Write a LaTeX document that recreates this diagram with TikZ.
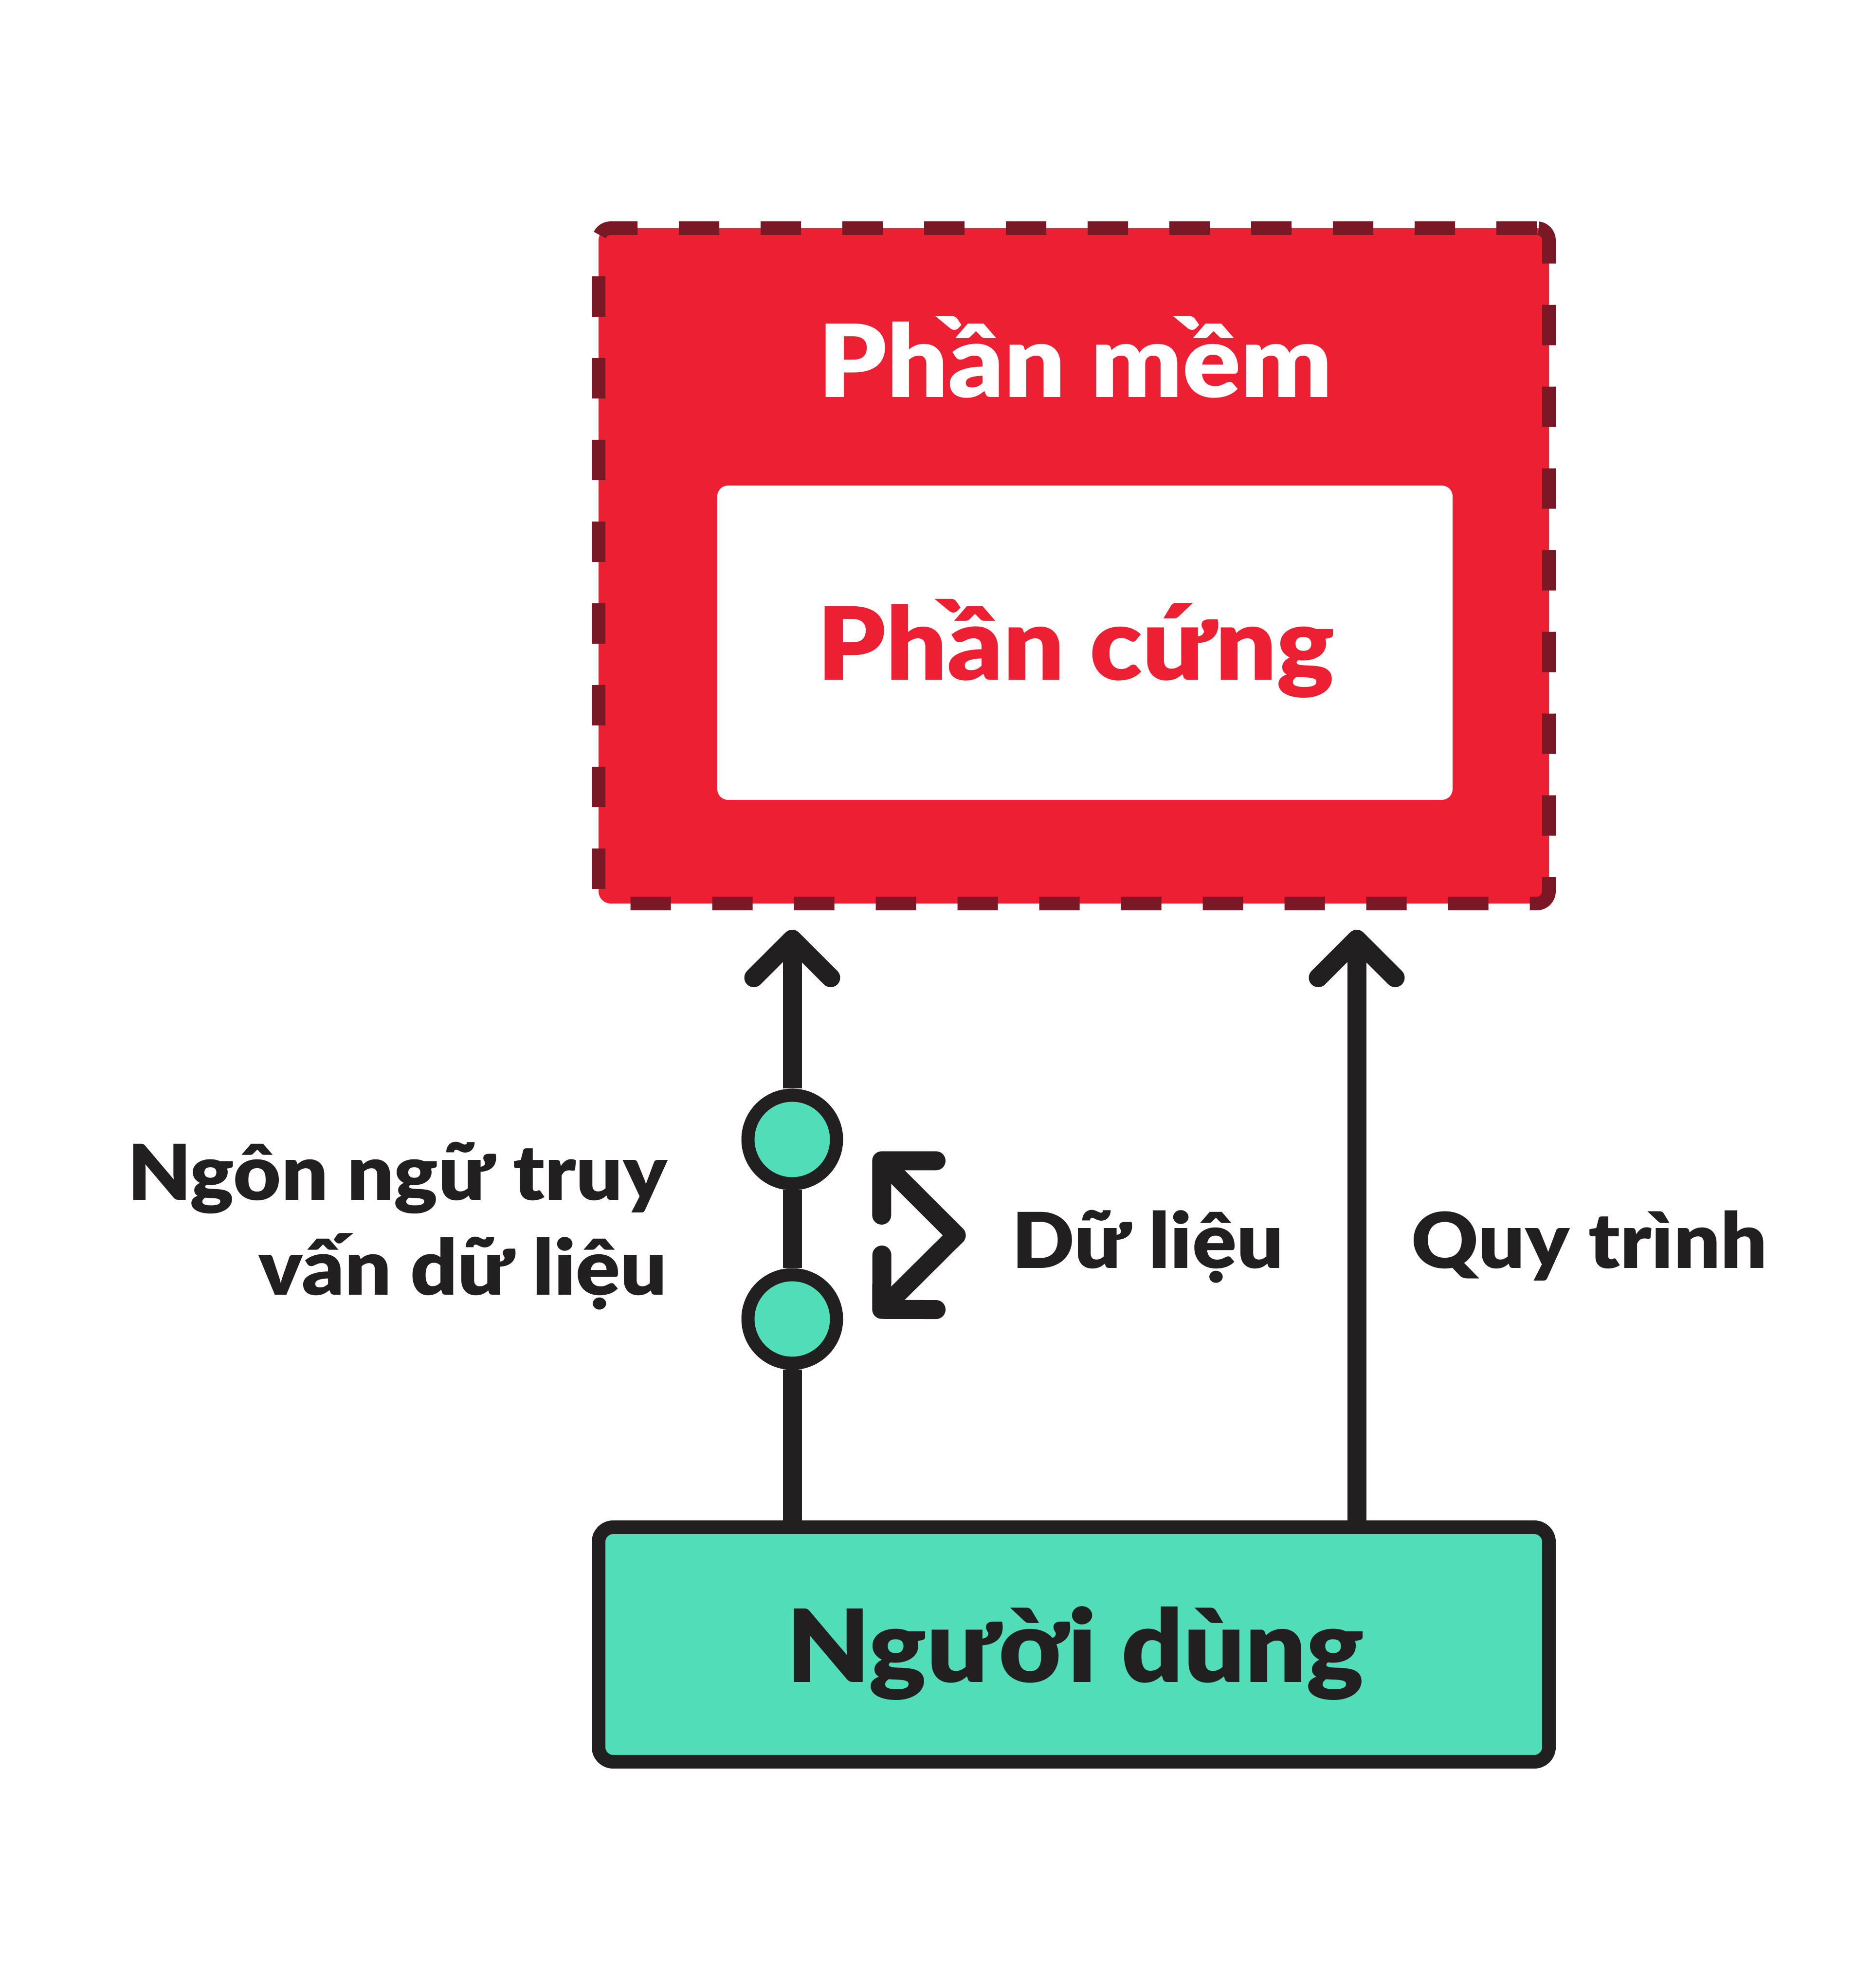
\documentclass[tikz,border=0pt]{standalone}
\usepackage{fontspec}
\setmainfont{Lato}[BoldFont={Lato Black}, BoldFeatures={FakeStretch=1.07}]
\usepackage{xcolor}
\definecolor{softred}{HTML}{EC1F33}
\definecolor{wine}{HTML}{7A1826}
\definecolor{mint}{HTML}{51DDB8}
\definecolor{inkdark}{HTML}{221F20}
\usetikzlibrary{positioning,arrows.meta,calc,backgrounds}

\begin{document}
\begin{tikzpicture}[
  font=\bfseries,
  swbox/.style={
    draw=wine, line width=0.28cm, dash pattern=on 0.83cm off 0.85cm,
    fill=softred, rounded corners=0.25cm,
    minimum width=19.53cm, minimum height=13.88cm,
  },
  hwbox/.style={
    fill=white, rounded corners=0.22cm,
    minimum width=15.11cm, minimum height=6.46cm,
  },
  userbox/.style={
    draw=inkdark, line width=0.28cm, fill=mint, rounded corners=0.3cm,
    minimum width=19.53cm, minimum height=4.82cm,
  },
  tapdot/.style={
    circle, draw=inkdark, line width=0.27cm, fill=mint,
    minimum size=1.82cm, inner sep=0pt,
  },
  flow/.style={draw=inkdark, line width=0.39cm,
    -{Straight Barb[length=0.79cm, width=1.58cm, round]}},
  bigtxt/.style={font=\fontsize{59pt}{64pt}\selectfont\bfseries, inner sep=0pt},
  lbltxt/.style={font=\fontsize{45pt}{55.7pt}\selectfont\bfseries,
    text=inkdark, inner sep=0pt},
]
\useasboundingbox (0,0) rectangle (38.14,40.86);

% === SOFTWARE / HARDWARE ===
\node[swbox] (sw) at (22.065, 29.23) {};
\node[hwbox] (hw) at (22.295, 27.65) {};
\node[bigtxt, text=white, anchor=base] (swtxt) at (22.10, 32.69) {Phần mềm};
\node[bigtxt, text=softred, anchor=base] (hwtxt) at (22.11, 26.88) {Phần cứng};

% === USER ===
\node[userbox] (user) at (22.065, 7.06) {};
\node[bigtxt, text=inkdark, anchor=base] (usertxt) at (22.10, 6.28) {Người dùng};

% === QUERY LANGUAGE (left arrow) ===
\node[tapdot] (c1) at (16.28, 17.44) {};
\node[tapdot] (c2) at (16.28, 13.75) {};
\begin{scope}[on background layer]
  \draw[flow] (user.north -| c2) -- (c2) -- (c1) -- ([yshift=-0.4cm]c1 |- sw.south);
\end{scope}
\node[lbltxt, align=right, anchor=base east] (qlang) at (13.72, 14.24)
  {Ngôn ngữ truy\\vấn dữ liệu};

% --- data swap icon ---
\coordinate (iconmid) at (19.65, 15.47);
\coordinate (iconup) at (17.98, 17.14);
\coordinate (icondown) at (17.98, 13.81);
\draw[flow, line cap=round] (iconmid) -- (iconup);
\draw[flow, line cap=round] (iconmid) -- (icondown);
\node[lbltxt, anchor=base west] (data) at (20.79, 14.79) {Dữ liệu};

% === PROCESS (right arrow) ===
\coordinate (procfoot) at ([xshift=5.815cm]user.north);
\draw[flow] (procfoot) -- ([yshift=-0.4cm]procfoot |- sw.south);
\node[lbltxt, anchor=base west] (proc) at (29.00, 14.79) {Quy trình};

\end{tikzpicture}
\end{document}
